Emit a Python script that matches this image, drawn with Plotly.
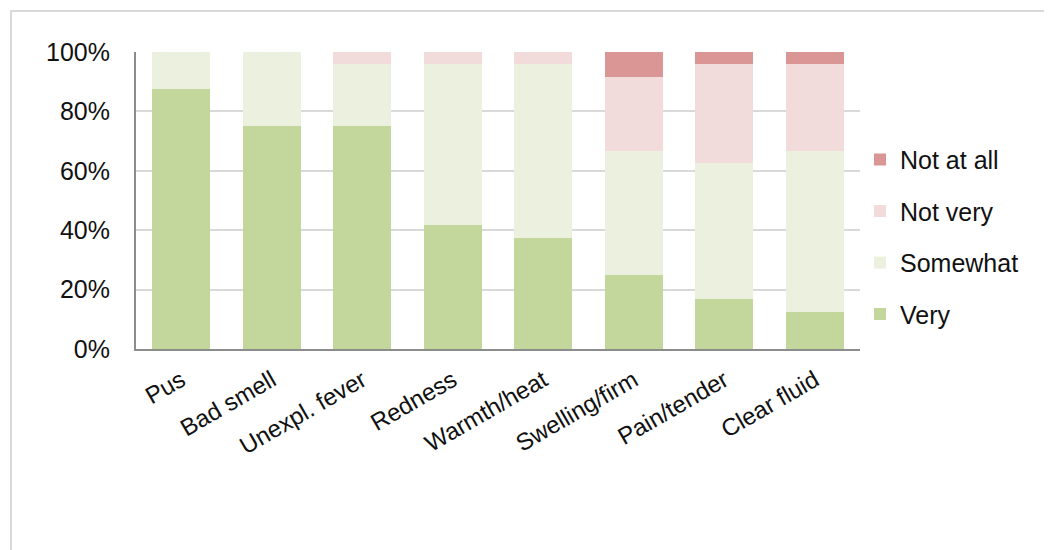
import plotly.graph_objects as go

categories = ["Pus", "Bad smell", "Unexpl. fever", "Redness", "Warmth/heat",
              "Swelling/firm", "Pain/tender", "Clear fluid"]
very = [87.5, 75.0, 75.0, 41.7, 37.5, 25.0, 16.7, 12.5]
somewhat = [12.5, 25.0, 20.8, 54.2, 58.3, 41.7, 45.8, 54.2]
not_very = [0.0, 0.0, 4.2, 4.1, 4.2, 25.0, 33.3, 29.1]
not_at_all = [0.0, 0.0, 0.0, 0.0, 0.0, 8.3, 4.2, 4.2]
y_ticks = [0, 20, 40, 60, 80, 100]
y_tick_labels = ["0%", "20%", "40%", "60%", "80%", "100%"]

series = [
    ("Very", very, "#C3D69B", 4),
    ("Somewhat", somewhat, "#EBF1DE", 3),
    ("Not very", not_very, "#F2DCDB", 2),
    ("Not at all", not_at_all, "#D99694", 1),
]

FONT = "Liberation Sans, Arial, sans-serif"

fig = go.Figure()
for name, vals, col, rank in series:
    fig.add_trace(go.Bar(
        x=categories, y=vals, name=name, legendgroup=name, legendrank=rank,
        marker=dict(color=col, line=dict(width=0)),
    ))

fig.update_layout(
    barmode="stack",
    bargap=0.36,
    width=1044, height=542,
    margin=dict(l=128, r=192, t=44, b=201, autoexpand=False),
    paper_bgcolor="white", plot_bgcolor="white",
    font=dict(family=FONT, size=25, color="#111111"),
    showlegend=True,
    legend=dict(
        traceorder="grouped", tracegroupgap=16,
        x=1.0, xanchor="left", y=0.715, yanchor="top",
        font=dict(family=FONT, size=25, color="#111111"),
        bgcolor="rgba(0,0,0,0)",
    ),
    xaxis=dict(
        showgrid=False, showline=True, linecolor="#8c8c8c", linewidth=2,
        tickangle=-30, ticks="", ticklabelstandoff=6,
        tickfont=dict(family=FONT, size=24, color="#111111"),
    ),
    yaxis=dict(
        range=[0, 100], tickvals=y_ticks, ticktext=y_tick_labels,
        showgrid=True, gridcolor="#d9d9d9", gridwidth=2,
        showline=True, linecolor="#8c8c8c", linewidth=2,
        zeroline=False, ticks="", ticklabelstandoff=19,
        tickfont=dict(family=FONT, size=25, color="#111111"),
    ),
    shapes=[dict(
        type="rect", xref="paper", yref="paper",
        x0=(3 - 128) / 724, x1=1.5, y0=-1.0, y1=(341 - 3) / 297,
        line=dict(color="#d9d9d9", width=2), fillcolor="rgba(0,0,0,0)",
        layer="below",
    )],
)

fig.write_html("out.html")
